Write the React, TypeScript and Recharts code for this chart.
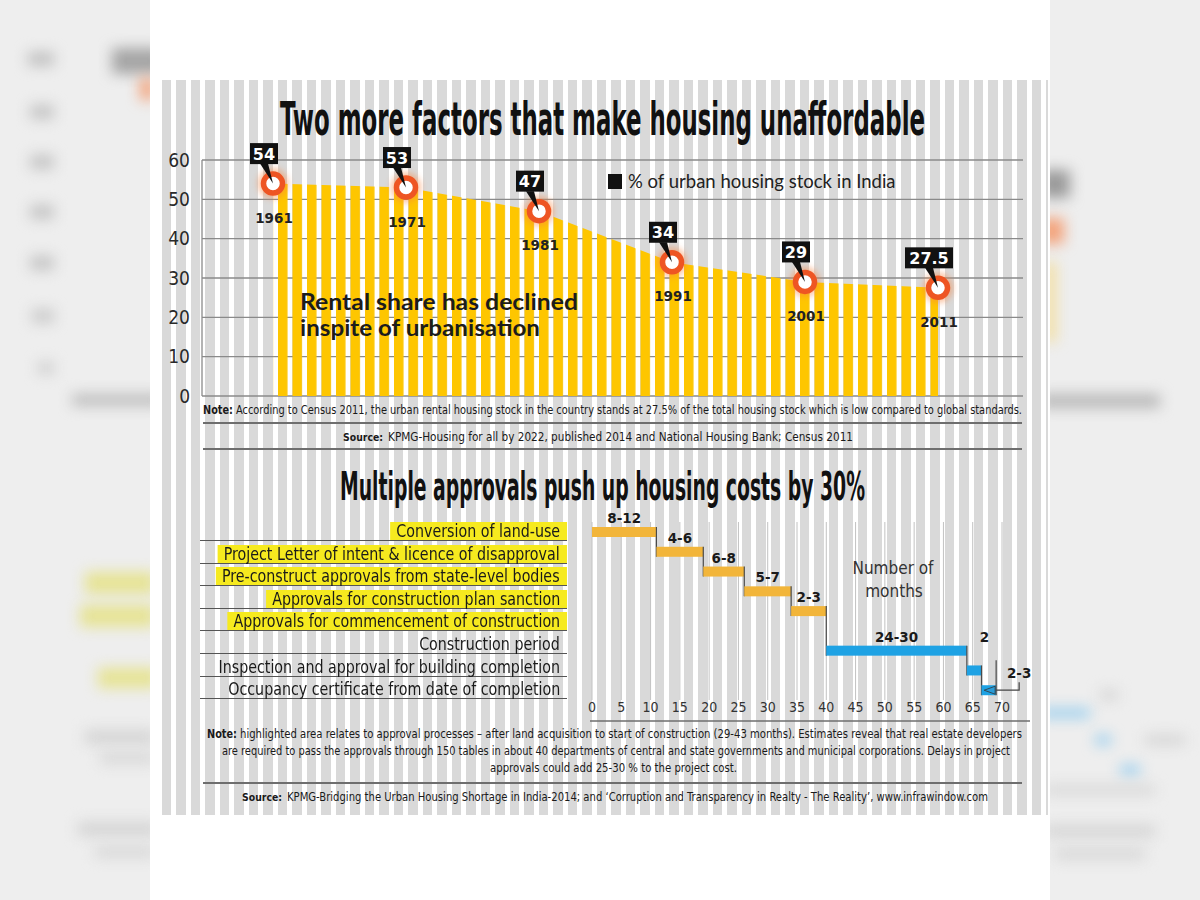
import React from 'react';
import {
  ComposedChart,
  Area,
  XAxis,
  YAxis,
  CartesianGrid,
  Legend,
  BarChart,
  Bar,
  LabelList,
} from 'recharts';

// ---- top chart: rental share of urban housing stock (census years)
const censusYears = [1961, 1971, 1981, 1991, 2001, 2011];
const rentalShare = [54, 53, 47, 34, 29, 27.5];
const shareTicks = [0, 10, 20, 30, 40, 50, 60];

// ---- bottom chart: approval timeline, months
const stepNames = [
  'Conversion of land-use',
  'Project Letter of intent & licence of disapproval',
  'Pre-construct approvals from state-level bodies',
  'Approvals for construction plan sanction',
  'Approvals for commencement of construction',
  'Construction period',
  'Inspection and approval for building completion',
  'Occupancy certificate from date of completion',
];
const stepStartMonth = [0, 11, 19, 26, 34, 40, 64, 66.5];
const stepEndMonth = [11, 19, 26, 34, 40, 64, 66.5, 69];
const stepRangeLabels = ['8-12', '4-6', '6-8', '5-7', '2-3', '24-30', '2', '2-3'];
const stepIsApproval = [true, true, true, true, true, false, false, false];
const monthTicks = [0, 5, 10, 15, 20, 25, 30, 35, 40, 45, 50, 55, 60, 65, 70];

const NARROW = '"Liberation Sans Narrow", "Arial Narrow", "DejaVu Sans Condensed", sans-serif';
const STRIPE_PITCH = 14.5;
const STRIPE_W = 9.5;

const shareData = censusYears.map((year, i) => ({ year, share: rentalShare[i] }));

// one row per step, with an empty slot between approvals and construction
const ganttRows: any[] = [];
stepNames.forEach((name, i) => {
  if (i > 0 && stepIsApproval[i - 1] && !stepIsApproval[i]) {
    ganttRows.push({ key: 'gap', start: null, dur: null });
  }
  ganttRows.push({
    key: `step${i}`,
    name,
    start: stepStartMonth[i],
    dur: stepEndMonth[i] - stepStartMonth[i],
    range: stepRangeLabels[i],
    approval: stepIsApproval[i],
  });
});
ganttRows.forEach((r, k) => {
  if (r.dur == null) return;
  const nk = ganttRows.findIndex((q, j) => j > k && q.dur != null);
  r.nextGap = nk < 0 ? null : nk - k;
  r.last = nk < 0;
});

const GANTT_W = 480;
const GANTT_H = 230;
const GANTT_MARGIN = { top: 17, right: 48, bottom: 15, left: 22 };
const GANTT_PLOT_H = 178;
const GANTT_BAND = GANTT_PLOT_H / ganttRows.length;

const CensusDot = (props: any) => {
  const { cx, cy, payload, index } = props;
  if (cx == null || cy == null) return null;
  const label = String(payload.share);
  const boxW = label.length * 10 + 8;
  const bx = cx - 9 - boxW / 2;
  const by = cy - 40.5;
  return (
    <g key={`census-${index}`}>
      <circle cx={cx} cy={cy} r={15} fill="#f7843f" opacity={0.5} filter="url(#dotGlow)" />
      <circle cx={cx} cy={cy} r={9.5} fill="#fff" stroke="#ee5523" strokeWidth={5.5} />
      <polygon points={`${cx - 13},${cy - 20} ${cx - 5},${cy - 20} ${cx},${cy}`} fill="#111" />
      <rect x={bx} y={by} width={boxW} height={21} fill="#111" />
      <text x={cx - 9} y={by + 16.5} textAnchor="middle" fill="#fff" fontSize={16} fontWeight={700} fontFamily="DejaVu Sans">
        {label}
      </text>
      <text x={cx + 1} y={cy + 39} textAnchor="middle" fill="#222" fontSize={13.5} fontWeight={700} fontFamily="DejaVu Sans">
        {payload.year}
      </text>
    </g>
  );
};

const ShareLegend = (props: any) => {
  const item = props.payload && props.payload[0];
  return (
    <div style={{ display: 'flex', alignItems: 'center', fontFamily: 'Lato, sans-serif', fontSize: 18.5, color: '#222', whiteSpace: 'nowrap' }}>
      <span style={{ display: 'inline-block', width: 14, height: 15, background: '#111', marginRight: 6 }} />
      {item ? item.value : ''}
    </div>
  );
};

const GanttBarShape = (props: any) => {
  const { x, y, width, height, payload } = props;
  if (!payload || payload.dur == null || x == null) return null;
  const end = x + width;
  const fill = payload.approval ? '#f2b53a' : '#1ea2e4';
  const y1 = payload.last ? y + height : y;
  const y2 = payload.last ? y - 25 : y + payload.nextGap * GANTT_BAND + height;
  return (
    <g>
      <rect x={x} y={y} width={width} height={height} fill={fill} />
      <line x1={end} x2={end} y1={y1} y2={y2} stroke="#4a4a4a" strokeWidth={1.2} />
    </g>
  );
};

const GanttLabel = (props: any) => {
  const { index, value } = props;
  const vb = props.viewBox || props;
  const row = ganttRows[index];
  if (!row || row.dur == null || vb.x == null) return null;
  const { x, y, width, height } = vb;
  const textProps = { fill: '#1a1a1a', fontSize: 13.5, fontWeight: 700, fontFamily: 'DejaVu Sans', textAnchor: 'middle' as const };
  if (row.last) {
    const lx = x + width + 23;
    return (
      <g>
        <text x={lx} y={y - 7} {...textProps}>{value}</text>
        <polyline points={`${lx},${y - 3} ${lx},${y + height / 2} ${x + width},${y + height / 2}`} fill="none" stroke="#444" strokeWidth={1.2} />
        <polygon points={`${x + width - 12},${y + height / 2} ${x + width - 1},${y + 1} ${x + width - 1},${y + height - 1}`} fill="#2a9bd6" stroke="#333" strokeWidth={0.8} />
      </g>
    );
  }
  if (!row.approval && row.dur < 5) {
    return <text x={x + width + 3} y={y - 23} {...textProps}>{value}</text>;
  }
  return <text x={x + width / 2} y={y - 4} {...textProps}>{value}</text>;
};

const BlurBlock = ({ l, t, w, h, c }: any) => (
  <div style={{ position: 'absolute', left: l, top: t, width: w, height: h, background: c, filter: 'blur(7px)' }} />
);

const noteText = { fontFamily: NARROW, fontSize: 12.5, fill: '#1a1a1a' };

export default function App() {
  return (
    <div style={{ position: 'relative', width: 1200, height: 900, overflow: 'hidden', background: '#fff' }}>
      <style>{'body{margin:0}'}</style>

      {/* blurred page behind the graphic */}
      <div style={{ position: 'absolute', left: 0, top: 0, width: 150, height: 900, background: '#eeeeee', overflow: 'hidden' }}>
        <BlurBlock l={112} t={48} w={50} h={26} c="#a5a5a5" />
        <BlurBlock l={140} t={78} w={14} h={22} c="#f3a27a" />
        <BlurBlock l={28} t={52} w={26} h={14} c="#c0c0c0" />
        <BlurBlock l={30} t={105} w={24} h={14} c="#c4c4c4" />
        <BlurBlock l={30} t={155} w={24} h={14} c="#c4c4c4" />
        <BlurBlock l={30} t={205} w={24} h={14} c="#c4c4c4" />
        <BlurBlock l={30} t={256} w={24} h={14} c="#c4c4c4" />
        <BlurBlock l={32} t={309} w={22} h={14} c="#cacaca" />
        <BlurBlock l={38} t={362} w={16} h={12} c="#cecece" />
        <BlurBlock l={72} t={394} w={90} h={12} c="#bdbdbd" />
        <BlurBlock l={85} t={572} w={70} h={22} c="#e6e394" />
        <BlurBlock l={80} t={605} w={75} h={22} c="#e6e394" />
        <BlurBlock l={98} t={668} w={60} h={20} c="#e6e394" />
        <BlurBlock l={85} t={730} w={70} h={14} c="#d4d4d4" />
        <BlurBlock l={100} t={752} w={55} h={12} c="#d8d8d8" />
        <BlurBlock l={78} t={822} w={80} h={14} c="#d4d4d4" />
        <BlurBlock l={95} t={846} w={60} h={12} c="#d8d8d8" />
      </div>
      <div style={{ position: 'absolute', left: 1050, top: 0, width: 150, height: 900, background: '#eeeeee', overflow: 'hidden' }}>
        <BlurBlock l={-10} t={170} w={30} h={28} c="#9a9a9a" />
        <BlurBlock l={-10} t={218} w={24} h={26} c="#f3a27a" />
        <BlurBlock l={-6} t={262} w={12} h={80} c="#f4dfa0" />
        <BlurBlock l={-10} t={394} w={120} h={14} c="#b8b8b8" />
        <BlurBlock l={-10} t={708} w={50} h={10} c="#9ccfee" />
        <BlurBlock l={45} t={735} w={16} h={10} c="#9ccfee" />
        <BlurBlock l={70} t={765} w={20} h={10} c="#9ccfee" />
        <BlurBlock l={50} t={690} w={18} h={10} c="#d4d4d4" />
        <BlurBlock l={95} t={735} w={40} h={10} c="#d4d4d4" />
        <BlurBlock l={-5} t={785} w={110} h={10} c="#d8d8d8" />
        <BlurBlock l={-5} t={825} w={110} h={12} c="#d4d4d4" />
        <BlurBlock l={5} t={848} w={90} h={12} c="#d8d8d8" />
      </div>

      {/* striped backdrop */}
      <div
        style={{
          position: 'absolute',
          left: 157,
          top: 80,
          width: 891,
          height: 735,
          backgroundImage: `repeating-linear-gradient(90deg, #ffffff 0px, #ffffff 5px, #d9d9d9 5px, #d9d9d9 ${STRIPE_PITCH}px)`,
        }}
      />

      {/* top chart */}
      <div style={{ position: 'absolute', left: 150, top: 80 }}>
        <ComposedChart width={900} height={345} data={shareData} margin={{ top: 80, right: 27, bottom: 29, left: 12 }}>
          <defs>
            <pattern id="rentStripes" patternUnits="userSpaceOnUse" x={12} y={0} width={STRIPE_PITCH} height={400}>
              <rect x={0} y={0} width={STRIPE_W} height={400} fill="#fec600" />
            </pattern>
            <filter id="dotGlow" x="-50%" y="-50%" width="200%" height="200%">
              <feGaussianBlur stdDeviation={3} />
            </filter>
          </defs>
          <CartesianGrid vertical={false} stroke="#8a8a8a" strokeWidth={1.3} />
          <XAxis dataKey="year" type="number" domain={[1961, 2011]} padding={{ left: 71, right: 85 }} hide />
          <YAxis
            domain={[0, 60]}
            ticks={shareTicks}
            width={40}
            tickSize={0}
            tickMargin={12}
            tickLine={false}
            axisLine={{ stroke: '#8a8a8a', strokeWidth: 1.3 }}
            tick={{ fill: '#2a2a2a', fontSize: 19, fontFamily: NARROW }}
          />
          <Legend
            layout="vertical"
            align="center"
            verticalAlign="middle"
            wrapperStyle={{ top: 90, left: 458, width: 330 }}
            content={<ShareLegend />}
          />
          <Area
            type="linear"
            dataKey="share"
            name="% of urban housing stock in India"
            stroke="none"
            fill="url(#rentStripes)"
            fillOpacity={1}
            dot={CensusDot}
            activeDot={false}
            legendType="square"
            isAnimationActive={false}
          />
        </ComposedChart>
      </div>

      {/* approval step labels */}
      <div style={{ position: 'absolute', left: 200, top: 518.5, width: 367 }}>
        {stepNames.map((name, i) => (
          <div
            key={name}
            style={{
              height: 22.6,
              boxSizing: 'border-box',
              borderBottom: '1.5px solid #555',
              display: 'flex',
              justifyContent: 'flex-end',
              alignItems: 'flex-end',
            }}
          >
            <span
              style={{
                display: 'inline-block',
                height: 18,
                lineHeight: '17px',
                padding: '0 8px 0 7px',
                background: stepIsApproval[i] ? '#f6ea1f' : 'transparent',
                fontFamily: NARROW,
                fontSize: 18,
                color: '#1a1a1a',
                whiteSpace: 'nowrap',
                transform: 'scaleX(0.88)',
                transformOrigin: '100% 50%',
              }}
            >
              {name}
            </span>
          </div>
        ))}
      </div>

      {/* gantt chart */}
      <div style={{ position: 'absolute', left: 570, top: 505 }}>
        <BarChart
          width={GANTT_W}
          height={GANTT_H}
          data={ganttRows}
          layout="vertical"
          margin={GANTT_MARGIN}
          barSize={10}
        >
          <CartesianGrid horizontal={false} stroke="#c2c2c2" strokeWidth={1} />
          <XAxis
            type="number"
            domain={[0, 70]}
            ticks={monthTicks}
            interval={0}
            height={20}
            tickSize={0}
            tickMargin={2}
            tickLine={false}
            axisLine={false}
            tick={{ fill: '#333', fontSize: 14, fontFamily: NARROW }}
          />
          <YAxis type="category" dataKey="key" hide />
          <Bar dataKey="start" stackId="g" fill="transparent" barSize={10} isAnimationActive={false} />
          <Bar dataKey="dur" stackId="g" barSize={10} shape={GanttBarShape} isAnimationActive={false}>
            <LabelList dataKey="range" content={GanttLabel} />
          </Bar>
        </BarChart>
      </div>

      {/* titles, notes, rules */}
      <svg width={1200} height={900} style={{ position: 'absolute', left: 0, top: 0, pointerEvents: 'none' }}>
        <text
          transform="translate(280,135) scale(1,1.6)"
          x={0}
          y={0}
          textLength={645}
          lengthAdjust="spacingAndGlyphs"
          fontFamily={NARROW}
          fontWeight={700}
          fontSize={29}
          fill="#111"
        >
          Two more factors that make housing unaffordable
        </text>
        <text x={300} y={310} fontFamily="Lato, sans-serif" fontWeight={700} fontSize={22} fill="#1c1c1c" textLength={278} lengthAdjust="spacingAndGlyphs">
          Rental share has declined
        </text>
        <text x={300} y={336} fontFamily="Lato, sans-serif" fontWeight={700} fontSize={22} fill="#1c1c1c" textLength={240} lengthAdjust="spacingAndGlyphs">
          inspite of urbanisation
        </text>

        <text x={203} y={414} textLength={30} lengthAdjust="spacingAndGlyphs" {...noteText} fontWeight={700}>Note:</text>
        <text x={236} y={414} textLength={786} lengthAdjust="spacingAndGlyphs" {...noteText}>
          According to Census 2011, the urban rental housing stock in the country stands at 27.5% of the total housing stock which is low compared to global standards.
        </text>
        <line x1={203} x2={1022} y1={423} y2={423} stroke="#6e6e6e" strokeWidth={2} />
        <text x={343} y={441} textLength={40} lengthAdjust="spacingAndGlyphs" {...noteText} fontSize={11} fontWeight={700}>Source:</text>
        <text x={388} y={441} textLength={465} lengthAdjust="spacingAndGlyphs" {...noteText}>
          KPMG-Housing for all by 2022, published 2014 and National Housing Bank; Census 2011
        </text>
        <line x1={203} x2={1022} y1={449} y2={449} stroke="#6e6e6e" strokeWidth={2} />

        <text
          transform="translate(340,500) scale(1,1.56)"
          x={0}
          y={0}
          textLength={525}
          lengthAdjust="spacingAndGlyphs"
          fontFamily={NARROW}
          fontWeight={700}
          fontSize={25}
          fill="#111"
        >
          Multiple approvals push up housing costs by 30%
        </text>

        <text x={893} y={574} textAnchor="middle" fontFamily={NARROW} fontSize={17} fill="#333">Number of</text>
        <text x={894} y={597} textAnchor="middle" fontFamily={NARROW} fontSize={17} fill="#333">months</text>

        <line x1={590} x2={1030} y1={721} y2={721} stroke="#6e6e6e" strokeWidth={1.5} />
        <text x={207} y={738} textLength={30} lengthAdjust="spacingAndGlyphs" {...noteText} fontWeight={700}>Note:</text>
        <text x={240} y={738} textLength={782} lengthAdjust="spacingAndGlyphs" {...noteText}>
          highlighted area relates to approval processes – after land acquisition to start of construction (29-43 months). Estimates reveal that real estate developers
        </text>
        <text x={222} y={755} textLength={788} lengthAdjust="spacingAndGlyphs" {...noteText}>
          are required to pass the approvals through 150 tables in about 40 departments of central and state governments and municipal corporations. Delays in project
        </text>
        <text x={490} y={772} textLength={247} lengthAdjust="spacingAndGlyphs" {...noteText}>
          approvals could add 25-30 % to the project cost.
        </text>
        <line x1={203} x2={1022} y1={783} y2={783} stroke="#6e6e6e" strokeWidth={2} />
        <text x={242} y={801} textLength={40} lengthAdjust="spacingAndGlyphs" {...noteText} fontSize={11} fontWeight={700}>Source:</text>
        <text x={287} y={801} textLength={701} lengthAdjust="spacingAndGlyphs" {...noteText}>
          KPMG-Bridging the Urban Housing Shortage in India-2014; and ‘Corruption and Transparency in Realty - The Reality’, www.infrawindow.com
        </text>
      </svg>
    </div>
  );
}
